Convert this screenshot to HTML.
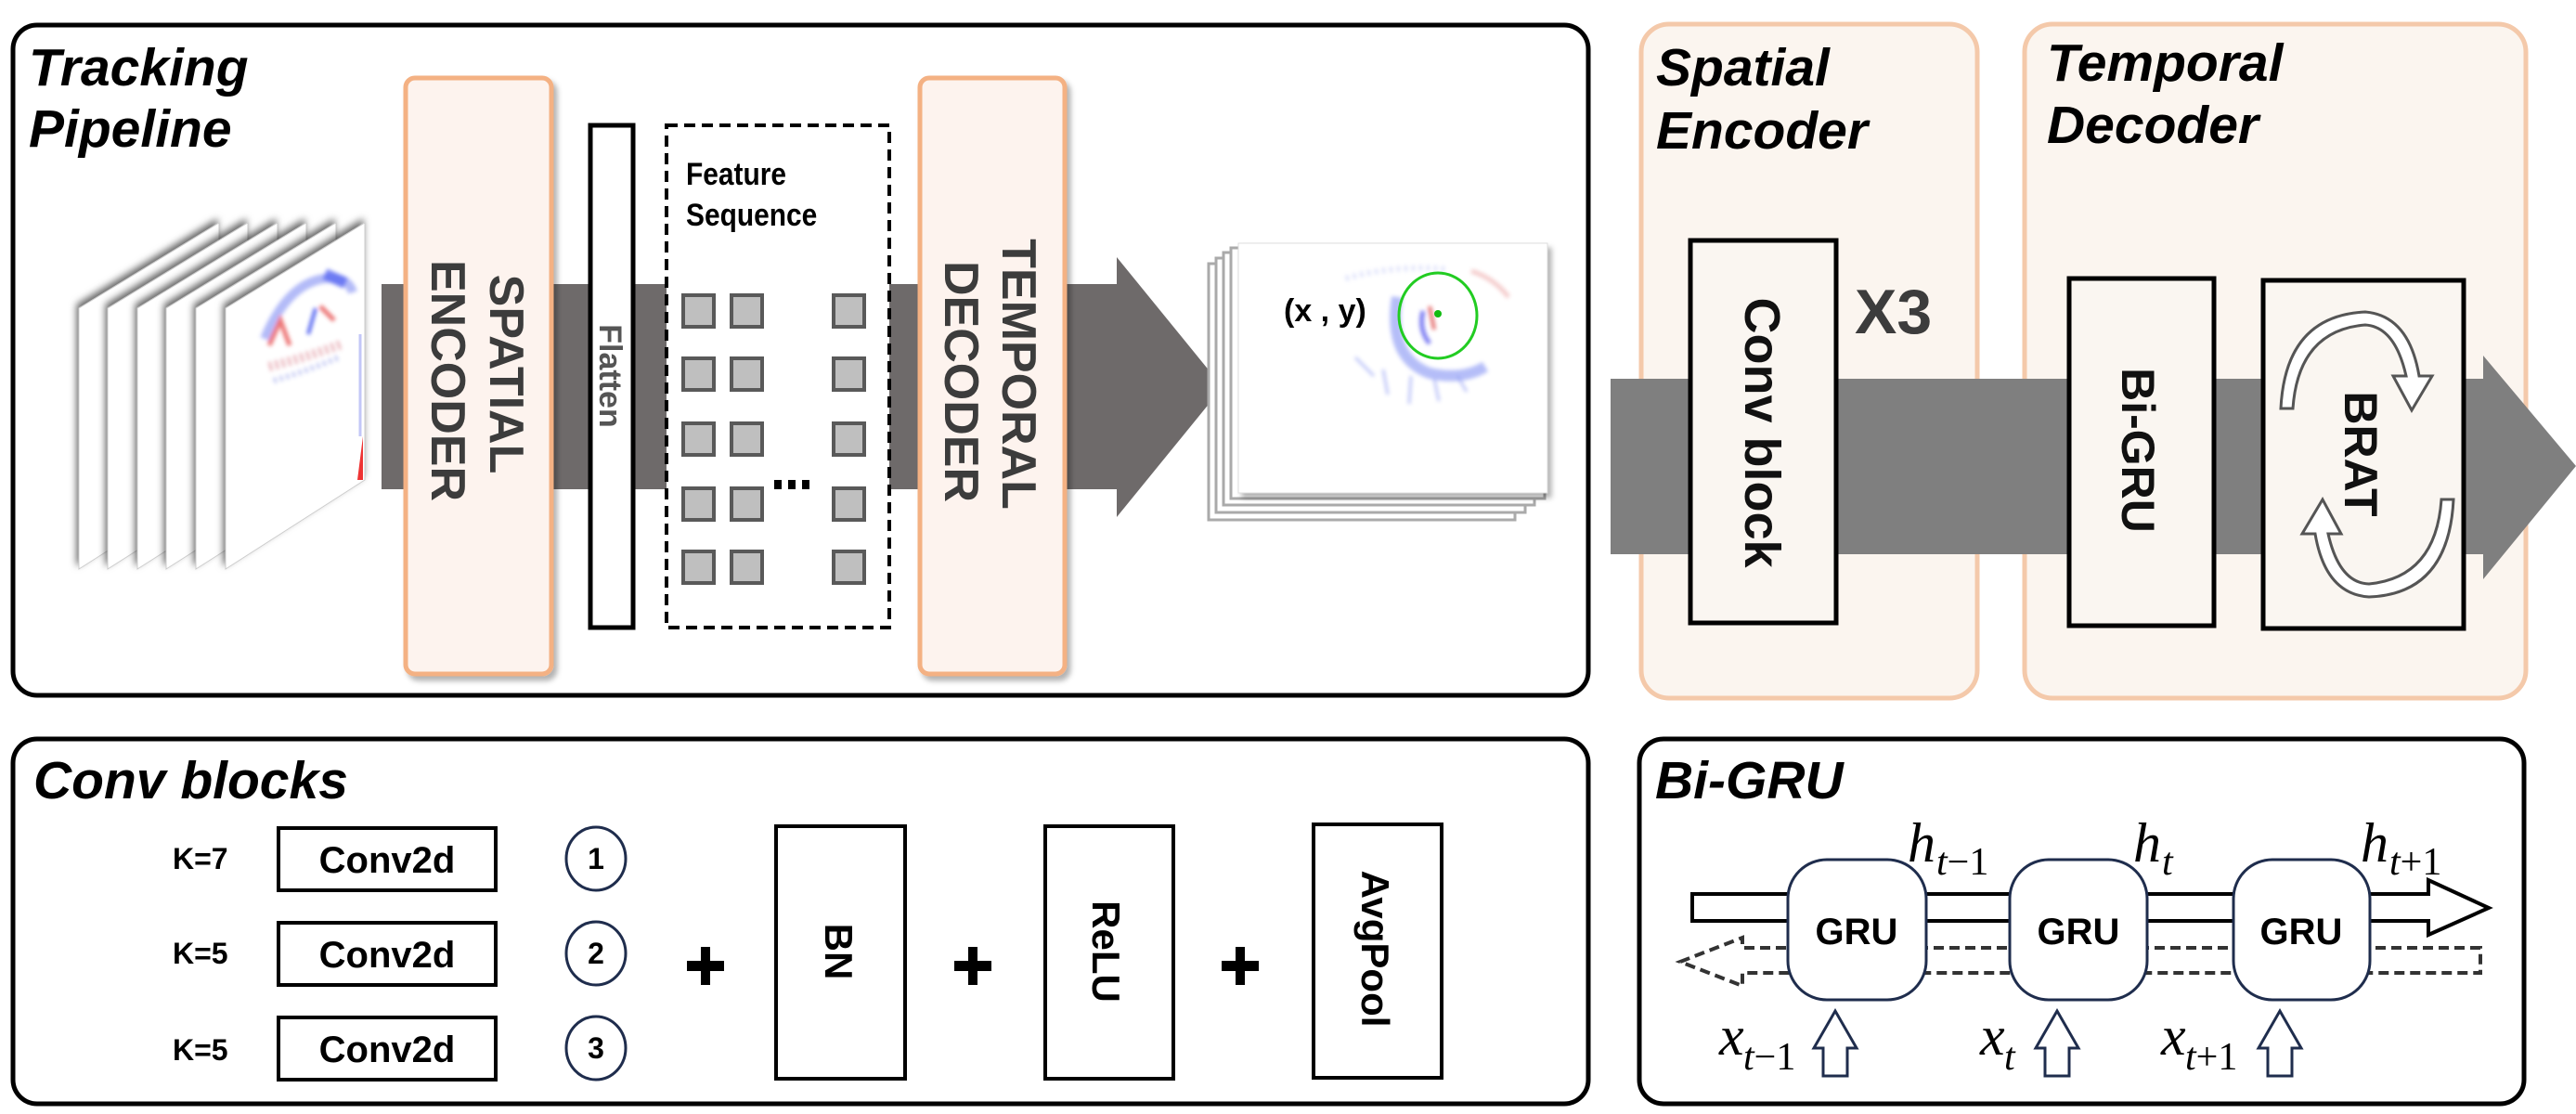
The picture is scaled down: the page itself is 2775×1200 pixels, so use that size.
<!DOCTYPE html>
<html><head><meta charset="utf-8"><style>
html,body{margin:0;padding:0;background:#fff;}
svg{display:block;}
text{font-family:"Liberation Sans",sans-serif;}
text.m{font-family:"Liberation Serif",serif;}
.b{font-weight:bold;}
.bi{font-weight:bold;font-style:italic;fill:#000;}
</style></head><body>
<svg width="2775" height="1200" viewBox="0 0 2775 1200" xmlns="http://www.w3.org/2000/svg">
<defs>
<filter id="sh" x="-30%" y="-30%" width="160%" height="160%"><feDropShadow dx="-2" dy="-4" stdDeviation="4" flood-color="#000" flood-opacity="0.6"/></filter>
<filter id="sh2" x="-20%" y="-20%" width="140%" height="140%"><feDropShadow dx="4" dy="5" stdDeviation="3" flood-color="#000" flood-opacity="0.3"/></filter>
<filter id="bl"><feGaussianBlur stdDeviation="2"/></filter>
</defs>

<rect x="14" y="27" width="1697" height="722" rx="26" fill="#fff" stroke="#000" stroke-width="5"/>
<text class="bi" x="31" y="92" font-size="57">Tracking</text>
<text class="bi" x="31" y="158" font-size="57">Pipeline</text>

<polygon points="411,306 1203,306 1203,277 1317,417 1203,557 1203,527 411,527" fill="#6e6a6a"/>

<polygon points="85,332 236,240 236,517 85,613" fill="#fff" stroke="#ccc" stroke-width="1" filter="url(#sh)"/>
<polygon points="116,332 267,240 267,517 116,613" fill="#fff" stroke="#ccc" stroke-width="1" filter="url(#sh)"/>
<polygon points="148,332 299,240 299,517 148,613" fill="#fff" stroke="#ccc" stroke-width="1" filter="url(#sh)"/>
<polygon points="179,332 330,240 330,517 179,613" fill="#fff" stroke="#ccc" stroke-width="1" filter="url(#sh)"/>
<polygon points="211,332 362,240 362,517 211,613" fill="#fff" stroke="#ccc" stroke-width="1" filter="url(#sh)"/>
<polygon points="243,332 393,240 393,517 243,613" fill="#fff" stroke="#ccc" stroke-width="1" filter="url(#sh)"/>
<g filter="url(#bl)" opacity="0.8">
<path d="M285,365 Q310,305 350,300 Q375,298 380,315" stroke="#6070f0" stroke-width="10" fill="none" opacity="0.6"/>
<path d="M350,295 L372,305" stroke="#3344ee" stroke-width="12" opacity="0.8"/>
<path d="M290,372 L302,345 L312,372" stroke="#e85555" stroke-width="5" fill="none"/>
<path d="M345,330 L360,345" stroke="#e85555" stroke-width="5"/>
<path d="M332,360 L340,332" stroke="#3344ee" stroke-width="4"/>
<path d="M290,395 Q330,385 370,370" stroke="#d06070" stroke-width="10" fill="none" stroke-dasharray="3,4" opacity="0.6"/>
<path d="M295,410 Q330,400 365,385" stroke="#6070e0" stroke-width="6" fill="none" stroke-dasharray="3,4" opacity="0.5"/>
</g>
<path d="M391,470 L391,517 L385,517 Z" fill="#e33"/>
<path d="M388,360 L388,470" stroke="#8890f0" stroke-width="3" opacity="0.5"/>

<rect x="437" y="84" width="157" height="642" rx="10" fill="#fdf3ee" stroke="#f4b183" stroke-width="5" filter="url(#sh2)"/>
<text class="b" font-size="52" fill="#3c3c3c" text-anchor="middle" transform="translate(528,403) rotate(90)">SPATIAL</text>
<text class="b" font-size="52" fill="#3c3c3c" text-anchor="middle" transform="translate(465,410) rotate(90)">ENCODER</text>

<rect x="636" y="135" width="46" height="541" fill="#fff" stroke="#000" stroke-width="5"/>
<text class="b" font-size="34" fill="#555" text-anchor="middle" transform="translate(646,405) rotate(90)">Flatten</text>

<rect x="718" y="135" width="240" height="541" fill="#fff" stroke="#000" stroke-width="4" stroke-dasharray="12,7"/>
<text class="b" font-size="34" x="739" y="199" transform="translate(739,0) scale(0.88,1) translate(-739,0)">Feature</text>
<text class="b" font-size="34" x="739" y="243" transform="translate(739,0) scale(0.88,1) translate(-739,0)">Sequence</text>
<g fill="#bfbfbf" stroke="#595959" stroke-width="4">
<rect x="736" y="318" width="33" height="34"/><rect x="788" y="318" width="33" height="34"/><rect x="898" y="318" width="33" height="34"/>
<rect x="736" y="386" width="33" height="34"/><rect x="788" y="386" width="33" height="34"/><rect x="898" y="386" width="33" height="34"/>
<rect x="736" y="456" width="33" height="34"/><rect x="788" y="456" width="33" height="34"/><rect x="898" y="456" width="33" height="34"/>
<rect x="736" y="526" width="33" height="34"/><rect x="788" y="526" width="33" height="34"/><rect x="898" y="526" width="33" height="34"/>
<rect x="736" y="594" width="33" height="34"/><rect x="788" y="594" width="33" height="34"/><rect x="898" y="594" width="33" height="34"/>
</g>
<g fill="#000"><rect x="834" y="517" width="8" height="10"/><rect x="849" y="517" width="8" height="10"/><rect x="864" y="517" width="8" height="10"/></g>

<rect x="991" y="84" width="156" height="642" rx="10" fill="#fdf3ee" stroke="#f4b183" stroke-width="5" filter="url(#sh2)"/>
<text class="b" font-size="52" fill="#3c3c3c" text-anchor="middle" transform="translate(1080,403) rotate(90)">TEMPORAL</text>
<text class="b" font-size="52" fill="#3c3c3c" text-anchor="middle" transform="translate(1018,411) rotate(90)">DECODER</text>

<g>
<rect x="1302" y="284" width="330" height="276" fill="#fff" stroke="#aaa" stroke-width="3"/>
<rect x="1310" y="278" width="333" height="274" fill="#fff" stroke="#aaa" stroke-width="3"/>
<rect x="1318" y="272" width="335" height="272" fill="#fff" stroke="#aaa" stroke-width="3"/>
<rect x="1326" y="267" width="338" height="270" fill="#fff" stroke="#aaa" stroke-width="3"/>
<rect x="1334" y="262" width="333" height="269" fill="#fff" stroke="#ddd" stroke-width="1" filter="url(#sh2)"/>
</g>
<g filter="url(#bl)" opacity="0.75">
<path d="M1505,320 Q1495,385 1540,402 Q1575,410 1600,395" stroke="#5a6ef0" stroke-width="12" fill="none" opacity="0.6"/>
<path d="M1460,385 L1480,405 M1490,398 L1495,425 M1520,405 L1518,435 M1545,408 L1550,432 M1570,405 L1580,422" stroke="#7080f0" stroke-width="3" opacity="0.6"/>
<path d="M1585,292 Q1610,300 1625,320" stroke="#e89090" stroke-width="5" fill="none" opacity="0.6"/>
<path d="M1540,330 L1545,355" stroke="#d44" stroke-width="4"/>
<path d="M1533,335 Q1528,355 1540,370" stroke="#55e" stroke-width="5" fill="none"/>
<path d="M1450,300 Q1500,285 1560,290" stroke="#9aa4f0" stroke-width="6" fill="none" stroke-dasharray="3,5" opacity="0.5"/>
</g>
<ellipse cx="1549" cy="340" rx="42" ry="46" fill="none" stroke="#22cc22" stroke-width="3"/>
<circle cx="1549" cy="338" r="4" fill="#11bb11"/>
<text class="b" font-size="34" x="1383" y="346">(x , y)</text>

<rect x="1768" y="26" width="362" height="726" rx="30" fill="#fbf5ef" stroke="#f4c9aa" stroke-width="5"/>
<rect x="2181" y="26" width="540" height="726" rx="30" fill="#fbf5ef" stroke="#f4c9aa" stroke-width="5"/>
<text class="bi" x="1784" y="92" font-size="57">Spatial</text>
<text class="bi" x="1784" y="160" font-size="57">Encoder</text>
<text class="bi" x="2205" y="87" font-size="57">Temporal</text>
<text class="bi" x="2205" y="154" font-size="57">Decoder</text>

<polygon points="1735,408 2675,408 2675,383 2775,502 2675,624 2675,597 1735,597" fill="#7f7f7f"/>

<rect x="1821" y="259" width="157" height="412" fill="#faf6f1" stroke="#000" stroke-width="5"/>
<text class="b" font-size="54" fill="#111" text-anchor="middle" transform="translate(1880,466) rotate(90)">Conv block</text>
<text class="b" font-size="68" fill="#3c3c3c" x="1998" y="359">X3</text>

<rect x="2229" y="300" width="156" height="374" fill="#faf6f1" stroke="#000" stroke-width="5"/>
<text class="b" font-size="50" fill="#111" text-anchor="middle" transform="translate(2286,485) rotate(90)">Bi-GRU</text>

<rect x="2438" y="302" width="216" height="375" fill="#faf6f1" stroke="#000" stroke-width="5"/>
<g fill="#fff" stroke="#555" stroke-width="3">
<path d="M2457,440 Q2462,340 2548,336 Q2595,340 2606,405 L2620,405 L2598,442 L2578,405 L2592,405 Q2580,352 2548,350 Q2476,356 2470,440 Z"/>
<path d="M2643,538 Q2638,640 2552,643 Q2505,640 2494,575 L2480,575 L2502,538 L2522,575 L2508,575 Q2520,628 2552,629 Q2624,622 2630,538 Z"/>
</g>
<text class="b" font-size="50" fill="#111" text-anchor="middle" transform="translate(2526,489) rotate(90)">BRAT</text>

<rect x="14" y="796" width="1697" height="393" rx="26" fill="#fff" stroke="#000" stroke-width="5"/>
<text class="bi" x="36" y="860" font-size="57">Conv blocks</text>
<g font-size="32" font-weight="bold">
<text x="186" y="936">K=7</text>
<text x="186" y="1038">K=5</text>
<text x="186" y="1142">K=5</text>
</g>
<g fill="#fff" stroke="#000" stroke-width="4">
<rect x="300" y="892" width="234" height="67"/>
<rect x="300" y="994" width="234" height="67"/>
<rect x="300" y="1096" width="234" height="67"/>
</g>
<g font-size="40" font-weight="bold" text-anchor="middle">
<text x="417" y="940">Conv2d</text>
<text x="417" y="1042">Conv2d</text>
<text x="417" y="1144">Conv2d</text>
</g>
<g fill="#fff" stroke="#1f2d4d" stroke-width="3">
<ellipse cx="642" cy="925" rx="32" ry="34"/>
<ellipse cx="642" cy="1027" rx="32" ry="34"/>
<ellipse cx="642" cy="1129" rx="32" ry="34"/>
</g>
<g font-size="32" font-weight="bold" text-anchor="middle">
<text x="642" y="936">1</text><text x="642" y="1038">2</text><text x="642" y="1140">3</text>
</g>
<g fill="#000">
<rect x="740" y="1035" width="40" height="11"/><rect x="755" y="1020" width="10" height="41"/>
<rect x="1028" y="1035" width="40" height="11"/><rect x="1043" y="1020" width="10" height="41"/>
<rect x="1316" y="1035" width="40" height="11"/><rect x="1331" y="1020" width="10" height="41"/>
</g>
<g fill="#fff" stroke="#000" stroke-width="4">
<rect x="836" y="890" width="139" height="272"/>
<rect x="1126" y="890" width="138" height="272"/>
<rect x="1415" y="888" width="138" height="273"/>
</g>
<g font-size="42" font-weight="bold" text-anchor="middle">
<text transform="translate(889,1025) rotate(90)">BN</text>
<text transform="translate(1177,1025) rotate(90)">ReLU</text>
<text transform="translate(1467,1022) rotate(90)">AvgPool</text>
</g>

<rect x="1766" y="796" width="953" height="393" rx="26" fill="#fff" stroke="#000" stroke-width="5"/>
<text class="bi" x="1783" y="860" font-size="57">Bi-GRU</text>
<polygon points="1823,963 2616,963 2616,948 2681,978 2616,1007 2616,992 1823,992" fill="#fff" stroke="#000" stroke-width="4"/>
<polygon points="2672,1021 1877,1021 1877,1010 1810,1036 1877,1062 1877,1048 2672,1048" fill="none" stroke="#333" stroke-width="4" stroke-dasharray="11,6"/>
<g fill="#fff" stroke="#1f2d4d" stroke-width="3">
<rect x="1926" y="926" width="149" height="151" rx="42"/>
<rect x="2165" y="926" width="148" height="151" rx="42"/>
<rect x="2406" y="926" width="147" height="151" rx="42"/>
</g>
<g font-size="40" font-weight="bold" text-anchor="middle">
<text x="2000" y="1017">GRU</text><text x="2239" y="1017">GRU</text><text x="2479" y="1017">GRU</text>
</g>
<g fill="#fff" stroke="#1f2d4d" stroke-width="3">
<polygon points="1964,1159 1964,1129 1954,1129 1977,1089 2000,1129 1990,1129 1990,1159"/>
<polygon points="2203,1159 2203,1129 2193,1129 2216,1089 2239,1129 2229,1129 2229,1159"/>
<polygon points="2443,1159 2443,1129 2433,1129 2456,1089 2479,1129 2469,1129 2469,1159"/>
</g>
<g fill="#000">
<text class="m" x="2055" y="928" font-size="60" font-style="italic">h</text>
<text class="m" x="2086" y="942" font-size="42"><tspan font-style="italic">t</tspan>−1</text>
<text class="m" x="2298" y="928" font-size="60" font-style="italic">h</text>
<text class="m" x="2329" y="942" font-size="42" font-style="italic">t</text>
<text class="m" x="2543" y="928" font-size="60" font-style="italic">h</text>
<text class="m" x="2574" y="942" font-size="42"><tspan font-style="italic">t</tspan>+1</text>
<text class="m" x="1852" y="1136" font-size="60" font-style="italic">x</text>
<text class="m" x="1878" y="1152" font-size="42"><tspan font-style="italic">t</tspan>−1</text>
<text class="m" x="2133" y="1136" font-size="60" font-style="italic">x</text>
<text class="m" x="2159" y="1152" font-size="42" font-style="italic">t</text>
<text class="m" x="2328" y="1136" font-size="60" font-style="italic">x</text>
<text class="m" x="2354" y="1152" font-size="42"><tspan font-style="italic">t</tspan>+1</text>
</g>
</svg>
</body></html>
